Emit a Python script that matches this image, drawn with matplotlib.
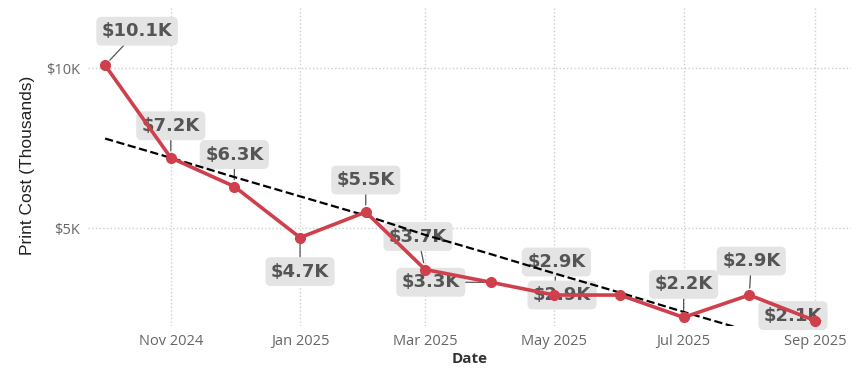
import pandas as pd
import numpy as np
import matplotlib
matplotlib.use('Agg')
import matplotlib.pyplot as plt
import matplotlib.dates as mdates
from matplotlib.ticker import FuncFormatter

# monthly print cost, thousands of dollars
months = pd.date_range('2024-10-01', '2025-09-01', freq='MS')
cost = [10.1, 7.2, 6.3, 4.7, 5.5, 3.7, 3.3, 2.9, 2.9, 2.2, 2.9, 2.1]

# where each value label sits relative to its point (pixels)
label_offsets = [(32, 34), (0, 32), (0, 32), (0, -34), (0, 32), (-7, 33),
                 (-60, 0), (2, 33), (-58, 0), (0, 33), (2, 34), (-22, 5)]

red = '#cf3f4c'
grey_text = '#555555'

fig, ax = plt.subplots(figsize=(8.64, 3.68), dpi=100)
fig.subplots_adjust(left=0.102, right=0.985, top=0.985, bottom=0.115)

# least squares trend over month index
x_idx = np.arange(len(cost))
slope, intercept = np.polyfit(x_idx, cost, 1)
ax.plot(months, slope * x_idx + intercept, '--', color='black', lw=1.6, zorder=3)

ax.plot(months, cost, '-o', color=red, lw=2.6, markersize=7, zorder=4, clip_on=False)

for d, v, off in zip(months, cost, label_offsets):
    ax.annotate('$%.1fK' % v, xy=(d, v), xytext=off, textcoords='offset pixels',
                ha='center', va='center', fontsize=13, fontweight='bold',
                color=grey_text, family=['DejaVu Sans'],
                bbox=dict(boxstyle='round,pad=0.3', fc='#e4e4e4', ec='none'),
                arrowprops=dict(arrowstyle='-', color=grey_text, lw=0.9,
                                shrinkA=0, shrinkB=5),
                zorder=2.5)

ax.set_ylim(1.94, 11.97)
ax.set_xlim(pd.Timestamp('2024-09-23'), pd.Timestamp('2025-09-18'))
ax.set_yticks([5, 10])
ax.yaxis.set_major_formatter(FuncFormatter(lambda v, p: '$%dK' % v))
ax.xaxis.set_major_locator(mdates.MonthLocator(bymonth=[1, 3, 5, 7, 9, 11]))
ax.xaxis.set_major_formatter(mdates.DateFormatter('%b %Y'))

ax.grid(True, linestyle=':', color='#cfcfcf', lw=1.0)
ax.set_axisbelow(True)
for s in ax.spines.values():
    s.set_visible(False)
ax.tick_params(length=0, labelsize=10.5, labelcolor='#666666', pad=6)
for t in ax.get_xticklabels() + ax.get_yticklabels():
    t.set_family(['Open Sans', 'DejaVu Sans'])

ax.set_xlabel('Date', fontsize=11, fontweight='bold', color='#333333',
              family=['Open Sans', 'DejaVu Sans'], labelpad=2)
ax.set_ylabel('Print Cost (Thousands)', fontsize=12.5, color='#222222',
              family=['Liberation Sans', 'DejaVu Sans'], labelpad=8)

fig.savefig('out.png')
